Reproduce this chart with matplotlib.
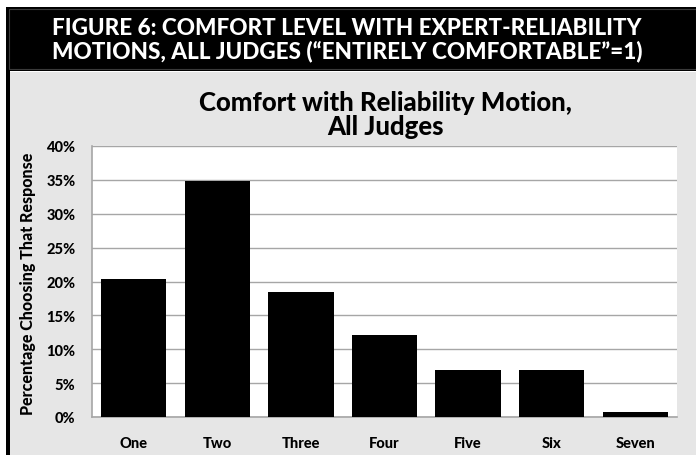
import matplotlib
matplotlib.use('agg')
import matplotlib.pyplot as plt
from matplotlib.patches import Rectangle
from matplotlib.ticker import FuncFormatter

categories = ['One', 'Two', 'Three', 'Four', 'Five', 'Six', 'Seven']
percent = [20.3, 34.9, 18.4, 12.1, 7.0, 7.0, 0.7]
yticks = [0, 5, 10, 15, 20, 25, 30, 35, 40]

header = 'FIGURE 6: COMFORT LEVEL WITH EXPERT-RELIABILITY\nMOTIONS, ALL JUDGES (\u201cENTIRELY COMFORTABLE\u201d=1)'
title = 'Comfort with Reliability Motion,\nAll Judges'

plt.rcParams['font.family'] = ['Lato', 'DejaVu Sans']

W, H = 696, 456
fig = plt.figure(figsize=(W / 100, H / 100), dpi=100)
fig.patch.set_facecolor('white')

def fx(px):
    return px / W

def fy(py):
    return 1 - py / H

# gray panel + left border
fig.patches.append(Rectangle((fx(10), 0), 1 - fx(10), fy(73), transform=fig.transFigure,
                             facecolor='#e6e6e6', edgecolor='none', zorder=-10))
fig.patches.append(Rectangle((fx(6), 0), fx(4), fy(8), transform=fig.transFigure,
                             facecolor='black', edgecolor='none', zorder=-10))
# header band with thin inner line
fig.patches.append(Rectangle((fx(6), fy(72)), 1 - fx(6), (72 - 8) / H, transform=fig.transFigure,
                             facecolor='black', edgecolor='none', zorder=-10))
fig.patches.append(Rectangle((fx(8.5), fy(70)), 1 - fx(8.5), (70 - 10) / H, transform=fig.transFigure,
                             facecolor='none', edgecolor='#3a3a3a', linewidth=0.8, zorder=-9))
fig.text(fx(347), fy(40), header, color='white', ha='center', va='center',
         fontsize=16.2, fontweight='black', linespacing=1.05)

ax = fig.add_axes([fx(92), fy(418), fx(677) - fx(92), (418 - 147) / H])
ax.set_facecolor('white')
x = range(len(categories))
ax.bar(x, percent, width=0.78, color='black', zorder=3)
ax.set_xlim(-0.5, len(categories) - 0.5)
ax.set_ylim(0, 40)
ax.set_yticks(yticks)
ax.yaxis.set_major_formatter(FuncFormatter(lambda v, p: '{:.0f}%'.format(v)))
ax.set_xticks(list(x))
ax.set_xticklabels(categories)
ax.grid(axis='y', color='#a6a6a6', linewidth=1, zorder=0)
for s in ['top', 'right']:
    ax.spines[s].set_visible(False)
for s in ['left', 'bottom']:
    ax.spines[s].set_color('#a6a6a6')
    ax.spines[s].set_linewidth(1.2)
ax.tick_params(length=0, labelsize=10.5)
ax.tick_params(axis='x', pad=14)
ax.tick_params(axis='y', pad=12)
for lbl in ax.get_xticklabels() + ax.get_yticklabels():
    lbl.set_fontweight('black')

fig.text(fx(385), fy(115), title, ha='center', va='center', fontsize=18.5,
         fontweight='black', linespacing=1.0)
fig.text(fx(28), fy(284), 'Percentage Choosing That Response', rotation=90,
         ha='center', va='center', fontsize=11.5, fontweight='black')

fig.savefig('out.png', dpi=100)
